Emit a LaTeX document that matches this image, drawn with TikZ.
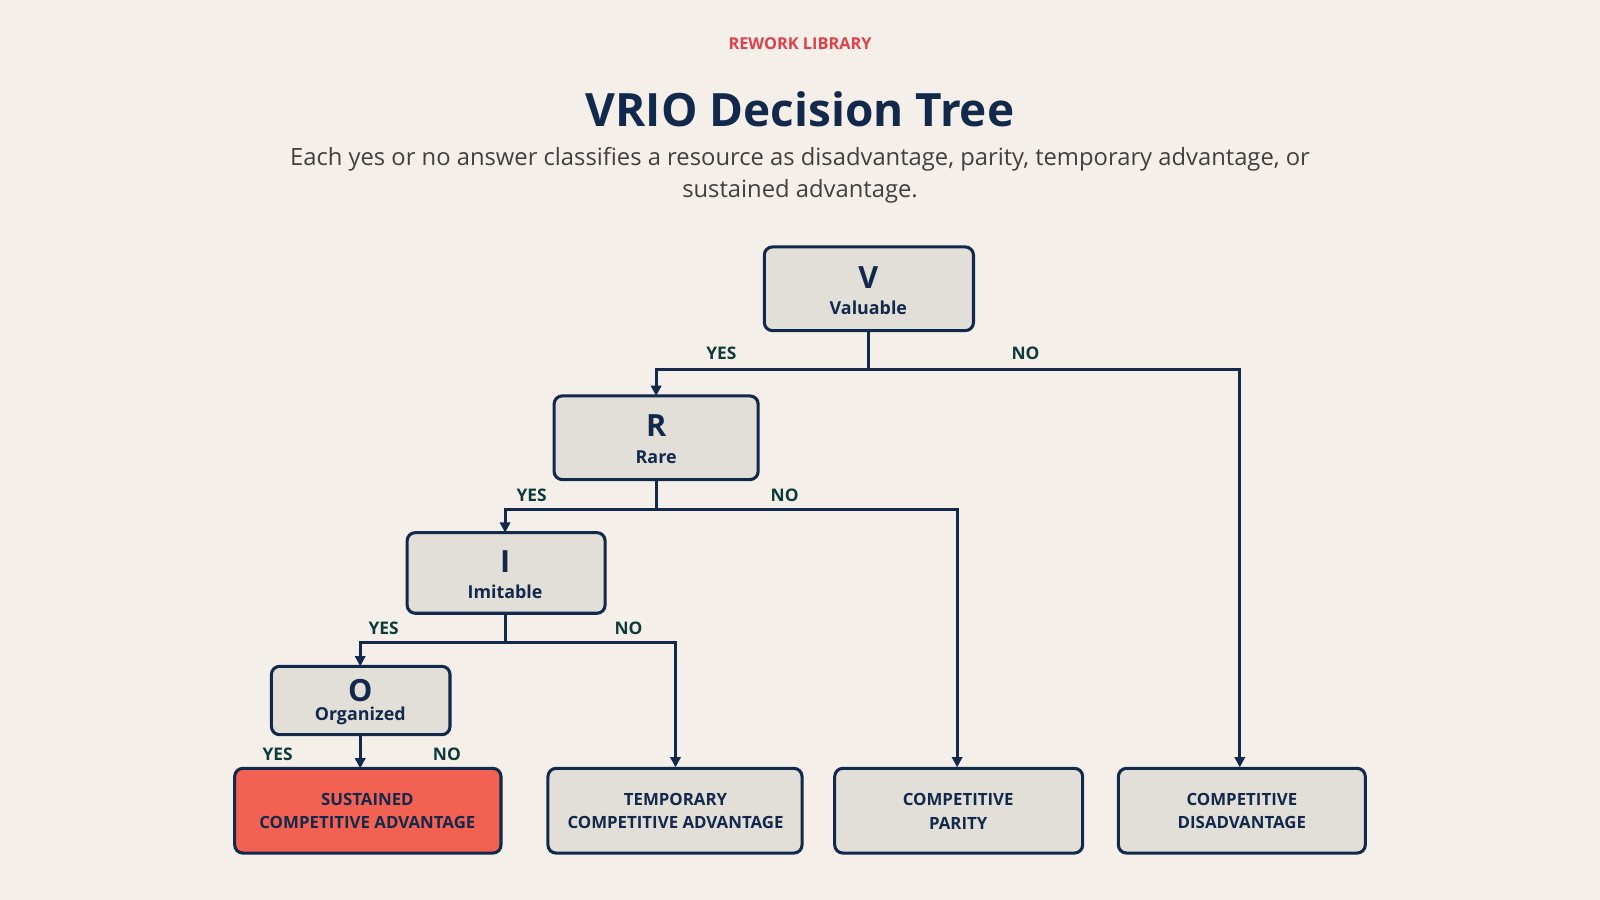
\documentclass[tikz,border=0pt]{standalone}
\usepackage{fontspec}
\setmainfont{Open Sans}
\usetikzlibrary{arrows.meta}
\definecolor{bg}{HTML}{F4F0E9}
\definecolor{navy}{HTML}{13294B}
\definecolor{boxf}{HTML}{E2DED8}
\definecolor{redf}{HTML}{F26152}
\definecolor{redt}{HTML}{E0404A}
\definecolor{lab}{HTML}{0E3B3A}
\begin{document}
\begin{tikzpicture}[x=1pt,y=-1pt,
  box/.style={draw=navy,line width=3pt,rounded corners=8pt,fill=boxf},
  conn/.style={draw=navy,line width=3pt},
  arr/.style={conn,-{Triangle[length=10pt,width=10pt]}},
  yn/.style={font=\fontsize{17}{19}\selectfont\bfseries,text=lab},
  big/.style={font=\fontsize{30}{32}\selectfont\bfseries,text=navy},
  small/.style={font=\fontsize{17.5}{19}\selectfont\bfseries,text=navy},
  res/.style={font=\fontsize{16.5}{23}\selectfont\bfseries,text=navy,align=center}]
\fill[bg] (0,0) rectangle (1568,882);
\useasboundingbox (0,0) rectangle (1568,882);
\node[font=\fontsize{16}{18}\selectfont\bfseries,text=redt] (h) at (784,43) {REWORK LIBRARY};
\node[font=\fontsize{45}{48}\selectfont\bfseries,text=navy] (t) at (784,107) {VRIO Decision Tree};
\node[font=\fontsize{23.3}{31}\selectfont,text=black!75,align=center] (s) at (784,172) {Each yes or no answer classifies a resource as disadvantage, parity, temporary advantage, or\\sustained advantage.};
% boxes
\path[box] (749,242) rectangle (954,324); \node[big] (v) at (851,272) {V}; \node[small] (vl) at (851,302) {Valuable};
\path[box] (543,388) rectangle (743,470); \node[big] (r) at (643,417) {R}; \node[small] at (643,448) {Rare};
\path[box] (399,522) rectangle (593,601); \node[big] (i) at (495,550) {I}; \node[small] at (495,580) {Imitable};
\path[box] (266,653) rectangle (441,720); \node[big] (o) at (353,677) {O}; \node[small] at (353,702) {Organized};
\path[box,fill=redf] (230,753) rectangle (491,836); \node[res] at (360,795) {SUSTAINED\\COMPETITIVE ADVANTAGE};
\path[box] (537,753) rectangle (786,836); \node[res] at (662,795) {TEMPORARY\\COMPETITIVE ADVANTAGE};
\path[box] (818,753) rectangle (1061,836); \node[res] at (939,795) {COMPETITIVE\\PARITY};
\path[box] (1096,753) rectangle (1338,836); \node[res] at (1217,795) {COMPETITIVE\\DISADVANTAGE};
\coordinate (vb) at (851,324); \coordinate (rb) at (643,470); \coordinate (ib) at (495,601); \coordinate (ob) at (353,720);
% connectors
\draw[conn] (vb) -- (851,362);
\draw[arr] (851,362) -- (643,362) -- (643,388);
\draw[arr] (851,362) -- (1215,362) -- (1215,752);
\draw[conn] (rb) -- (643,499);
\draw[arr] (643,499) -- (495,499) -- (495,522);
\draw[arr] (643,499) -- (938,499) -- (938,752);
\draw[conn] (ib) -- (495,630);
\draw[arr] (495,630) -- (353,630) -- (353,653);
\draw[arr] (495,630) -- (662,630) -- (662,752);
\draw[arr] (ob) -- (353,753);
\node[yn] at (707,346) {YES}; \node[yn] at (1005,346) {NO};
\node[yn] at (521,485) {YES}; \node[yn] at (769,485) {NO};
\node[yn] at (376,616) {YES}; \node[yn] at (616,616) {NO};
\node[yn] at (272,739) {YES}; \node[yn] at (438,739) {NO};
\end{tikzpicture}
\end{document}
